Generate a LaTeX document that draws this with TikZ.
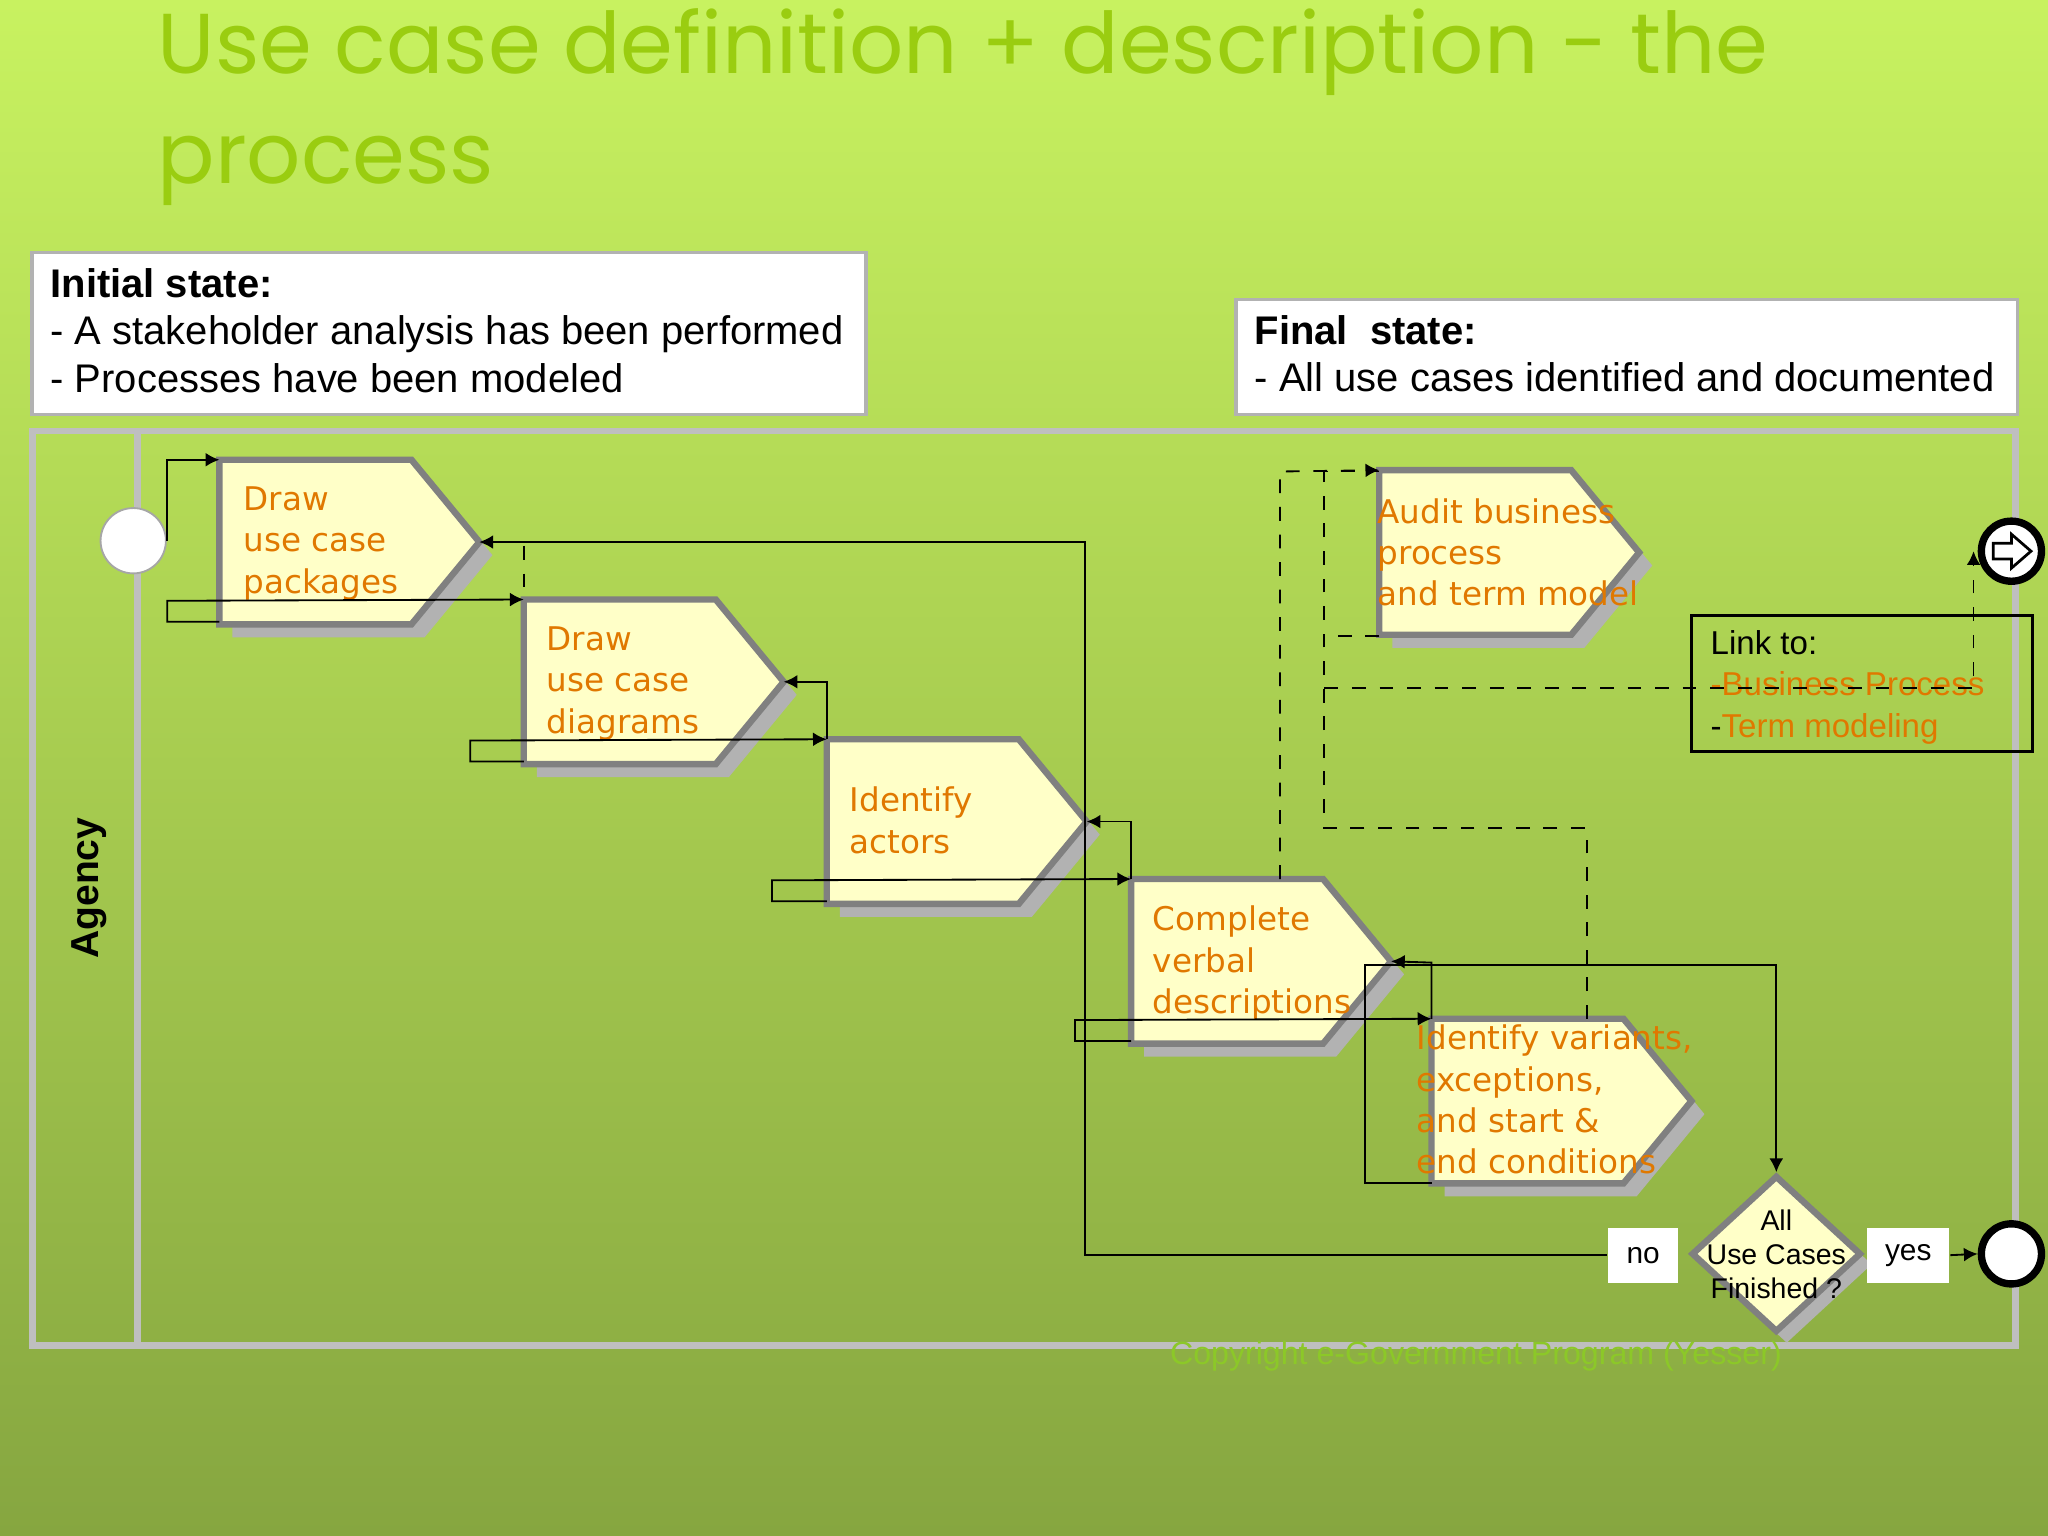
\documentclass[tikz,border=0pt]{standalone}
\usepackage{fontspec}
\setmainfont{Liberation Sans}
\newfontfamily\tfont{Poppins}
\newfontfamily\vfont{DejaVu Sans}
\usetikzlibrary{arrows.meta,shapes.geometric}
\definecolor{ttl}{HTML}{9ACD10}
\definecolor{org}{HTML}{E07800}
\definecolor{chf}{HTML}{FFFFC8}
\definecolor{gry}{HTML}{808080}
\begin{document}
\begin{tikzpicture}[x=0.01cm,y=-0.01cm,
  con/.style={black,line width=0.4pt},
  arr/.style={con,-{Latex[length=3pt,width=3pt]}},
  dsh/.style={con,dashed},
  chev/.style={fill=chf,draw=gry,line width=1.4pt},
  shd/.style={fill=gray!60,draw=none},
  otxt/.style={text=org,font=\vfont\fontsize{7.1}{9}\selectfont,align=left,anchor=north west,inner sep=0pt},
  btxt/.style={font=\fontsize{8.7}{10.3}\selectfont,align=left,anchor=north west,inner sep=0pt}]
\useasboundingbox (0,0) rectangle (1568,1176);
\fill[top color={rgb,255:red,200;green,242;blue,96}, bottom color={rgb,255:red,134;green,166;blue,64}] (0,0) rectangle (1568,1176);
% title
\node[anchor=north west,inner sep=0pt,text=ttl,font=\tfont\fontsize{18.5}{24}\selectfont,align=left] (title) at (120,6) {Use case definition + description - the\\process};
% state boxes
\node[draw=gray!60,fill=white,line width=0.8pt,minimum width=6.38cm,minimum height=1.24cm,anchor=north west] (init) at (23,192) {};
\node[btxt] (initt) at (38,205) {\textbf{Initial state:}\\- A stakeholder analysis has been performed\\- Processes have been modeled};
\node[draw=gray!60,fill=white,line width=0.8pt,minimum width=5.98cm,minimum height=0.88cm,anchor=north west] (fin) at (945,228) {};
\node[btxt] (fint) at (960,241) {\textbf{Final\ \ state:}\\- All use cases identified and documented};
% pool
\draw[gray!50,line width=1.5pt] (25,330) rectangle (1543,1030);
\draw[gray!50,line width=1.5pt] (105,330) -- (105,1030);
\node[rotate=90,font=\bfseries\fontsize{8.5}{10}\selectfont] (agency) at (68,680) {Agency};
% chevrons
\foreach \x/\y/\n in {168/352/a,401/459/b,633/566/c,866/673/d,1096/780/e,1056/360/f}{
  \fill[shd] (\x+10,\y+10) -- ++(147,0) -- ++(52,63) -- ++(-52,63) -- ++(-147,0) -- cycle;
  \draw[chev] (\x,\y) -- ++(147,0) -- ++(52,63) -- ++(-52,63) -- ++(-147,0) -- cycle;
  \coordinate (\n tl) at (\x,\y);
  \coordinate (\n bl) at (\x,\y+124);
  \coordinate (\n p) at (\x+199,\y+63);
}
\node[otxt] (ta) at (186,372) {Draw\\use case\\packages};
\node[otxt] (tb) at (418,479) {Draw\\use case\\diagrams};
\node[otxt] (tc) at (650,602) {Identify\\actors};
\node[otxt] (td) at (882,693) {Complete\\verbal\\descriptions};
\node[otxt] (te) at (1084,784) {Identify variants,\\exceptions,\\and start \&\\end conditions};
\node[otxt] (tf) at (1054,381) {Audit business\\process\\and term model};
% events
\node[circle,draw=gray!70,fill=white,minimum size=0.5cm,inner sep=0pt] (start) at (102,414) {};
\node[circle,draw=black,line width=1.6pt,fill=white,minimum size=0.46cm,inner sep=0pt] (end) at (1540,960) {};
\node[circle,draw=black,line width=1.6pt,fill=white,minimum size=0.46cm,inner sep=0pt] (msg) at (1540,422) {};
\draw[line width=0.6pt] (1526,416) -- (1540,416) -- (1540,409) -- (1555,422) -- (1540,435) -- (1540,428) -- (1526,428) -- cycle;
% diamond
\fill[gray!60] (1368,908) -- (1433,968) -- (1368,1028) -- (1303,968) -- cycle;
\node[diamond,draw=gry,fill=chf,line width=1.4pt,minimum width=1.3cm,minimum height=1.2cm,inner sep=0pt,aspect=1.08] (dia) at (1360,960) {};
\node[font=\fontsize{6.2}{7.4}\selectfont,align=center] (diat) at (1360,960) {All\\Use Cases\\Finished ?};
\node[fill=white,minimum width=0.54cm,minimum height=0.42cm,inner sep=0pt,font=\fontsize{6.5}{7}\selectfont] (no) at (1258,961) {no};
\node[fill=white,minimum width=0.63cm,minimum height=0.42cm,inner sep=0pt,font=\fontsize{6.5}{7}\selectfont] (yes) at (1461,961) {yes};
% link box
\node[draw=black,line width=0.6pt,minimum width=2.61cm,minimum height=1.04cm,anchor=north west] (link) at (1294,470) {};
\node[anchor=north west,inner sep=0pt,font=\fontsize{7.2}{9}\selectfont,align=left] (linkt) at (1309,482) {Link to:\\\textcolor{org}{-Business Process}\\-\textcolor{org}{Term modeling}};
% connectors
\draw[arr] (128,414) -- (128,352) -- (atl);
\draw[arr] (abl) -- (128,476) -- (128,460) -- (btl);
\draw[arr] (bbl) -- (360,583) -- (360,567) -- (ctl);
\draw[arr] (cbl) -- (591,690) -- (591,674) -- (dtl);
\draw[arr] (dbl) -- (823,797) -- (823,781) -- (etl);
\draw[arr] (ctl) -- (633,522) -- (bp);
\draw[arr] (dtl) -- (866,629) -- (cp);
\draw[arr] (etl) -- (1096,737) -- (dp);
\draw[arr] (no.west) -- (831,961) -- (831,415) -- (ap);
\draw[arr] (1096,906) -- (1045,906) -- (1045,739) -- (1360,739) -- (dia.north);
\draw[arr] (yes.east) -- (end.west);
\draw[dsh] (401,418) -- (401,459);
\draw[dsh,-{Latex[length=3pt,width=3pt]}] (980,673) -- (980,361) -- (ftl);
\draw[dsh] (1056,487) -- (1014,487);
\draw[dsh] (1215,780) -- (1215,634) -- (1014,634) -- (1014,361) -- (1056,361);
\draw[dsh,-{Latex[length=3pt,width=3pt]}] (1014,527) -- (1511,527) -- (1511,422);
% copyright
\node[text={rgb,255:red,140;green,200;blue,40},font=\fontsize{7}{8}\selectfont] (copy) at (1130,1038) {Copyright e-Government Program (Yesser)};
\end{tikzpicture}
\end{document}
